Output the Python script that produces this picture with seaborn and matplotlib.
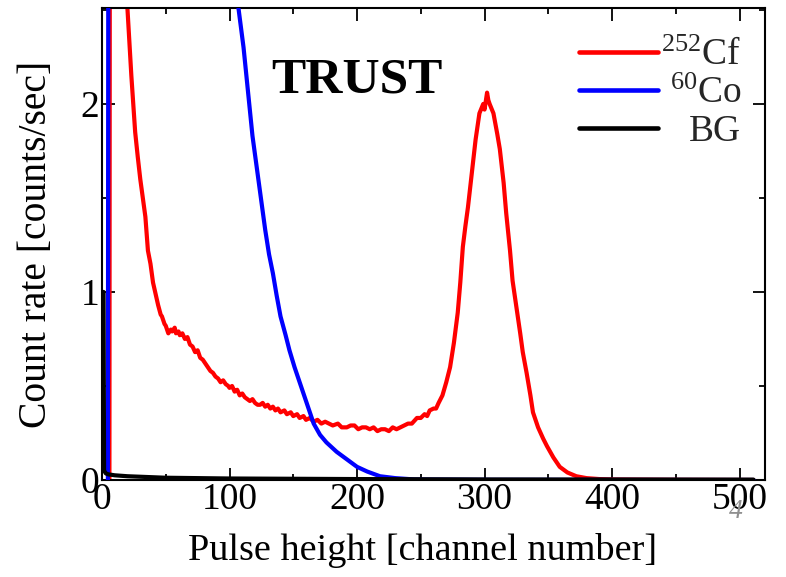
import matplotlib
matplotlib.use("Agg")
import matplotlib.pyplot as plt
import seaborn as sns
import pandas as pd
from matplotlib.ticker import MultipleLocator

# Pulse-height spectra (channel, count rate in counts/sec)
cf_channel = [5.8, 6.2, 15, 20, 23, 26, 28, 30, 32, 34, 36, 38, 40, 42, 44, 46, 47,
              49, 50, 52, 54, 55, 57, 58, 60, 61, 63, 65, 67, 69, 71, 73, 75, 77, 79,
              81, 83, 85, 87, 89, 91, 93, 95, 97, 99, 100, 102, 104, 106, 108, 110,
              112, 114, 116, 118, 120, 122, 124, 126, 128, 130, 132, 134, 136, 138,
              140, 143, 145, 148, 150, 153, 155, 158, 160, 163, 166, 169, 172, 175,
              178, 181, 185, 188, 192, 195, 198, 201, 204, 207, 210, 213, 216, 219,
              222, 225, 228, 231, 234, 237, 240, 243, 247, 250, 253, 255, 257, 260,
              262, 264, 267, 270, 273, 276, 279, 281, 283, 285, 287, 290, 293, 296,
              299, 300, 302, 303, 304, 307, 310, 312, 315, 317, 320, 322, 325, 328,
              330, 333, 336, 338, 342, 346, 349, 354, 359, 365, 372, 380, 390, 400,
              420, 450, 511]
cf_rate = [0.0, 3.6, 3.2, 2.5, 2.15, 1.85, 1.72, 1.6, 1.50, 1.40, 1.22, 1.15, 1.05,
           0.99, 0.93, 0.88, 0.87, 0.83, 0.82, 0.78, 0.80, 0.79, 0.81, 0.78, 0.79,
           0.77, 0.78, 0.75, 0.76, 0.72, 0.71, 0.68, 0.69, 0.65, 0.64, 0.62, 0.60,
           0.58, 0.57, 0.55, 0.54, 0.52, 0.53, 0.51, 0.50, 0.49, 0.50, 0.47, 0.48,
           0.45, 0.46, 0.44, 0.43, 0.42, 0.43, 0.41, 0.40, 0.40, 0.41, 0.39, 0.40,
           0.38, 0.39, 0.37, 0.38, 0.36, 0.37, 0.35, 0.36, 0.34, 0.35, 0.33, 0.34,
           0.32, 0.33, 0.31, 0.32, 0.30, 0.31, 0.30, 0.29, 0.30, 0.28, 0.28, 0.29,
           0.29, 0.27, 0.28, 0.28, 0.27, 0.28, 0.26, 0.27, 0.27, 0.26, 0.28, 0.27,
           0.28, 0.29, 0.30, 0.30, 0.33, 0.33, 0.35, 0.34, 0.37, 0.38, 0.38, 0.41,
           0.45, 0.52, 0.60, 0.73, 0.89, 1.05, 1.24, 1.35, 1.45, 1.63, 1.81, 1.95,
           2.00, 1.97, 2.06, 2.02, 2.00, 1.95, 1.84, 1.76, 1.58, 1.42, 1.22, 1.06,
           0.92, 0.78, 0.68, 0.57, 0.45, 0.36, 0.28, 0.22, 0.18, 0.12, 0.07, 0.04,
           0.02, 0.01, 0.005, 0.003, 0.002, 0.001, 0.0]

co_channel = [4.6, 5.0, 60, 100, 107, 111, 118, 121, 124, 128, 131, 134, 137, 140,
              144, 147, 151, 155, 160, 166, 171, 176, 184, 192, 200, 208, 218, 230,
              245, 300, 511]
co_rate = [0.0, 3.6, 4.0, 3.0, 2.51, 2.30, 1.83, 1.68, 1.53, 1.33, 1.20, 1.10, 0.98,
           0.87, 0.77, 0.69, 0.60, 0.52, 0.42, 0.30, 0.24, 0.20, 0.15, 0.11, 0.07,
           0.045, 0.02, 0.01, 0.003, 0.001, 0.0]

bg_channel = [0, 1.2, 1.6, 3, 5, 10, 20, 50, 100, 200, 300, 511]
bg_rate = [1.0, 1.0, 0.05, 0.035, 0.03, 0.025, 0.02, 0.012, 0.008, 0.005, 0.003,
           0.002]

series_labels = [r"$^{252}$Cf", r"$^{60}$Co", "BG"]
series_colors = ["#ff0000", "#0000ff", "#000000"]

sns.set_theme(style="ticks")
plt.rcParams["font.family"] = ["Liberation Serif", "DejaVu Serif"]
plt.rcParams["mathtext.fontset"] = "custom"
plt.rcParams["mathtext.rm"] = "Liberation Serif"
plt.rcParams["mathtext.it"] = "Liberation Serif:italic"

fig = plt.figure(figsize=(7.86, 5.77), dpi=100)
ax = fig.add_axes([0.1298, 0.1681, 0.8435, 0.818])

frames = [
    pd.DataFrame({"channel": cf_channel, "rate": cf_rate}),
    pd.DataFrame({"channel": co_channel, "rate": co_rate}),
    pd.DataFrame({"channel": bg_channel, "rate": bg_rate}),
]
for z, (df, lab, col) in enumerate(zip(frames, series_labels, series_colors)):
    sns.lineplot(data=df, x="channel", y="rate", ax=ax, color=col, lw=3.0,
                 label=lab, sort=False, estimator=None, zorder=2 + z)

ax.set_xlim(0, 520)
ax.set_ylim(0, 2.51)
ax.xaxis.set_major_locator(MultipleLocator(100))
ax.xaxis.set_minor_locator(MultipleLocator(50))
ax.yaxis.set_major_locator(MultipleLocator(1))
ax.yaxis.set_minor_locator(MultipleLocator(0.5))
ax.tick_params(which="both", direction="in", top=True, right=True,
               width=1.3, color="black", labelsize=27, pad=2, labelcolor="black")
ax.tick_params(which="major", length=9)
ax.tick_params(which="minor", length=4)
for s in ax.spines.values():
    s.set_linewidth(1.5)
    s.set_color("black")

ax.set_xlabel("Pulse height [channel number]", fontsize=27.5, color="black",
              labelpad=11)
ax.xaxis.label.set_x(0.483)
ax.set_ylabel("Count rate [counts/sec]", fontsize=28.5, color="black", labelpad=18)

ax.text(0.385, 0.847, "TRUST", transform=ax.transAxes, fontsize=37,
        fontweight="bold", color="black", ha="center", va="center")

leg = ax.legend(loc="upper right", bbox_to_anchor=(0.970, 0.943), frameon=False,
                fontsize=27, handlelength=2.1, handletextpad=0.1,
                labelspacing=0.09, borderaxespad=0.1, borderpad=0.0)
for h in leg.get_lines():
    h.set_linewidth(3.3)

# right-align the legend texts
fig.canvas.draw()
renderer = fig.canvas.get_renderer()
texts = leg.get_texts()
widths = [t.get_window_extent(renderer).width for t in texts]
wmax = max(widths)
for t, w in zip(texts, widths):
    t.set_position((wmax - w, 0))

fig.text(0.936, 0.113, "4", fontsize=20, color="#909090", style="italic",
         ha="center", va="center")

fig.savefig("out.png", dpi=100)
